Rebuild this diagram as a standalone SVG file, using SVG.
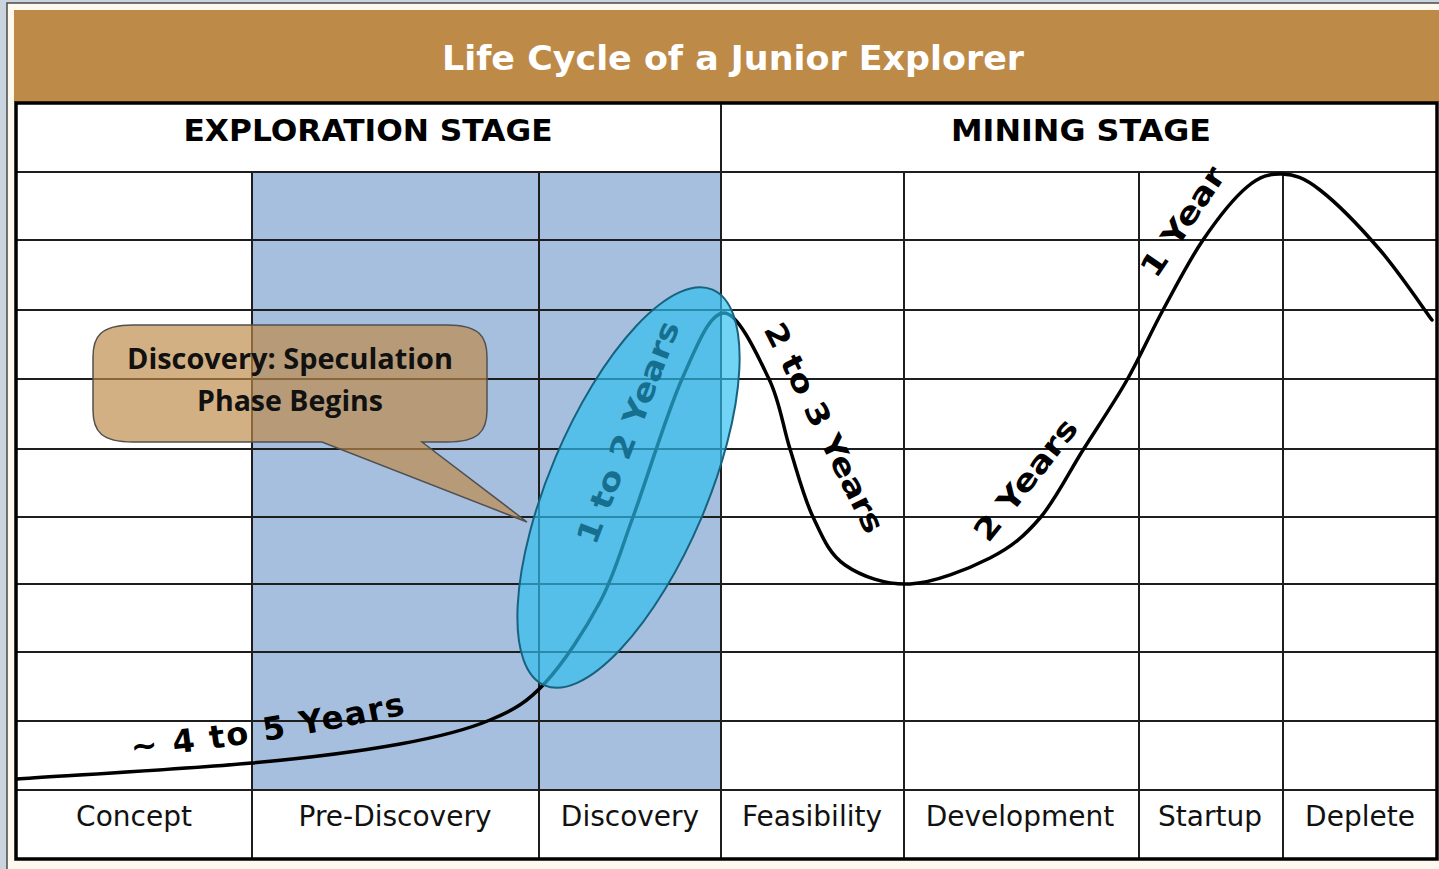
<svg xmlns="http://www.w3.org/2000/svg" width="1439" height="869" viewBox="0 0 1439 869">
<style>
.grid{stroke:#1e1e1e;stroke-width:2;fill:none}
.lbl{font-family:"DejaVu Sans",Verdana,sans-serif;font-size:28px;fill:#111;text-anchor:middle}
.hdr{font-family:"DejaVu Sans",Verdana,sans-serif;font-size:30px;font-weight:bold;fill:#000;text-anchor:middle}
.dur{font-family:"DejaVu Sans",Verdana,sans-serif;font-size:30px;font-weight:bold;fill:#000;text-anchor:middle}
.call{font-family:"Open Sans","Noto Sans",sans-serif;font-size:29px;font-weight:bold;fill:#111;text-anchor:middle}
</style>
<defs>
<path id="p45" d="M128,758 Q250,748 416,712"/>
</defs>
<rect x="0" y="0" width="1439" height="869" fill="#c9d4de"/>
<rect x="7" y="3" width="1440" height="870" fill="#fdf9ee" stroke="#4a4a4a" stroke-width="1.5"/>
<g id="title">
<rect x="14" y="10" width="1430" height="92" fill="#be8a48"/>
<text x="733" y="70" font-family="DejaVu Sans,Verdana,sans-serif" font-size="33" font-weight="bold" fill="#ffffff" text-anchor="middle" textLength="582" lengthAdjust="spacingAndGlyphs">Life Cycle of a Junior Explorer</text>
</g>
<g id="table">
<rect x="16" y="103" width="1421" height="756" fill="#ffffff"/>
<rect x="252" y="172" width="469" height="618" fill="#a7bfde"/>
<g class="grid">
<line x1="16" y1="172" x2="1437" y2="172"/>
<line x1="16" y1="240" x2="1437" y2="240"/>
<line x1="16" y1="310" x2="1437" y2="310"/>
<line x1="16" y1="379" x2="1437" y2="379"/>
<line x1="16" y1="449" x2="1437" y2="449"/>
<line x1="16" y1="517" x2="1437" y2="517"/>
<line x1="16" y1="584" x2="1437" y2="584"/>
<line x1="16" y1="652" x2="1437" y2="652"/>
<line x1="16" y1="721" x2="1437" y2="721"/>
<line x1="16" y1="790" x2="1437" y2="790"/>
<line x1="721" y1="103" x2="721" y2="859"/>
<line x1="252" y1="172" x2="252" y2="859"/>
<line x1="539" y1="172" x2="539" y2="859"/>
<line x1="904" y1="172" x2="904" y2="859"/>
<line x1="1139" y1="172" x2="1139" y2="859"/>
<line x1="1283" y1="172" x2="1283" y2="859"/>
</g>
<rect x="16" y="103" width="1421" height="756" fill="none" stroke="#000" stroke-width="3.5"/>
</g>
<g id="stage-exploration"><text class="hdr" x="368" y="141" textLength="369" lengthAdjust="spacingAndGlyphs">EXPLORATION STAGE</text></g>
<g id="stage-mining"><text class="hdr" x="1081" y="141" textLength="260" lengthAdjust="spacingAndGlyphs">MINING STAGE</text></g>
<g id="phase-concept"><text class="lbl" x="134" y="826">Concept</text></g>
<g id="phase-prediscovery"><text class="lbl" x="395" y="826">Pre-Discovery</text></g>
<g id="phase-discovery"><text class="lbl" x="630" y="826">Discovery</text></g>
<g id="phase-feasibility"><text class="lbl" x="812" y="826">Feasibility</text></g>
<g id="phase-development"><text class="lbl" x="1020" y="826">Development</text></g>
<g id="phase-startup"><text class="lbl" x="1210" y="826">Startup</text></g>
<g id="phase-deplete"><text class="lbl" x="1360" y="826">Deplete</text></g>
<g id="callout">
<path d="M133,325 L447,325 C480,325 487,337 487,357 L487,410 C487,432 478,442 447,442 L422,442 L527,522 L322,442 L133,442 C102,442 93,432 93,410 L93,357 C93,337 100,325 133,325 Z" fill="#be8a48" fill-opacity="0.68" stroke="#505050" stroke-width="1.5"/>
<text class="call" x="290" y="369" textLength="326" lengthAdjust="spacingAndGlyphs">Discovery: Speculation</text>
<text class="call" x="290" y="411" textLength="186" lengthAdjust="spacingAndGlyphs">Phase Begins</text>
</g>
<g id="connectors">
<path id="lifecycle-curve" fill="none" stroke="#000" stroke-width="3.5" stroke-linecap="round" d="M17,779 C56.2,776.3 188.2,768.8 252,763 C315.8,757.2 360.3,751.2 400,744 C439.7,736.8 465.8,730.2 490,720 C514.2,709.8 526.7,702.7 545,683 C563.3,663.3 585.3,629.7 600,602 C614.7,574.3 619.3,554.2 633,517 C646.7,479.8 666.8,413 682,379 C697.2,345 709.5,313 724,313 C738.5,313 758,356.3 769,379 C780,401.7 782.7,426 790,449 C797.3,472 803.8,497.7 813,517 C822.2,536.3 828.8,553.8 845,565 C861.2,576.2 885.8,585.2 910,584 C934.2,582.8 968.3,569 990,558 C1011.7,547 1024.5,536 1040,518 C1055.5,500 1068.5,473 1083,450 C1097.5,427 1113.7,403.3 1127,380 C1140.3,356.7 1150.3,333.3 1163,310 C1175.7,286.7 1189,260.5 1203,240 C1217,219.5 1233.8,198 1247,187 C1260.2,176 1269.8,173.5 1282,174 C1294.2,174.5 1303.7,177.3 1320,190 C1336.3,202.7 1361.3,228.3 1380,250 C1398.7,271.7 1423.3,308.3 1432,320"/>
</g>
<g id="label-4to5"><text font-family="DejaVu Sans,Verdana,sans-serif" font-size="32" font-weight="bold" fill="#000" letter-spacing="2"><textPath href="#p45" startOffset="4">~ 4 to 5 Years</textPath></text></g>
<g id="discovery-ellipse">
<ellipse cx="0" cy="0" rx="215" ry="79" transform="translate(628.5,487.5) rotate(-67)" fill="#2dc0ef" fill-opacity="0.68" stroke="#17627f" stroke-width="2"/>
</g>
<g id="label-1to2"><text class="dur" style="fill:#176f8f" transform="translate(628.5,432.5) rotate(-69)" x="0" y="10" textLength="236" lengthAdjust="spacingAndGlyphs">1 to 2 Years</text></g>
<g id="label-2to3"><text class="dur" transform="translate(824,428) rotate(63.4)" x="0" y="10" textLength="231" lengthAdjust="spacingAndGlyphs">2 to 3 Years</text></g>
<g id="label-2y"><text class="dur" transform="translate(1026,480) rotate(-51.6)" x="0" y="10" textLength="147" lengthAdjust="spacingAndGlyphs">2 Years</text></g>
<g id="label-1y"><text class="dur" transform="translate(1183,222) rotate(-56)" x="0" y="10" textLength="126" lengthAdjust="spacingAndGlyphs">1 Year</text></g>
</svg>
